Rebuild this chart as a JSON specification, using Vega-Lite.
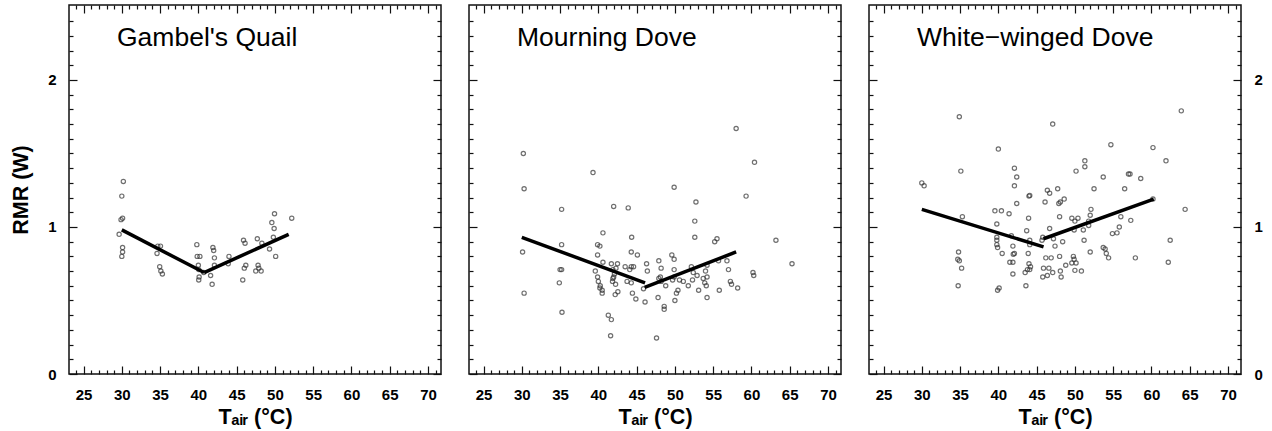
{
  "$schema": "https://vega.github.io/schema/vega-lite/v6.json",
  "padding": {"left": 9, "top": 3, "right": 5, "bottom": 0},
  "spacing": 24,
  "datasets": {
    "gq_pts": [
      {"tair":30.2,"rmr":1.31},{"tair":30.0,"rmr":1.21},{"tair":29.9,"rmr":1.05},{"tair":30.1,"rmr":1.06},{"tair":29.65,"rmr":0.95},{"tair":30.1,"rmr":0.86},{"tair":30.1,"rmr":0.83},{"tair":30.0,"rmr":0.80},
      {"tair":34.7,"rmr":0.87},{"tair":35.05,"rmr":0.87},{"tair":34.6,"rmr":0.82},{"tair":34.95,"rmr":0.73},{"tair":35.1,"rmr":0.70},{"tair":35.3,"rmr":0.68},
      {"tair":39.8,"rmr":0.88},{"tair":39.85,"rmr":0.80},{"tair":40.2,"rmr":0.80},{"tair":40.0,"rmr":0.74},{"tair":40.05,"rmr":0.71},{"tair":40.1,"rmr":0.66},{"tair":40.05,"rmr":0.64},{"tair":40.7,"rmr":0.69},
      {"tair":41.6,"rmr":0.67},{"tair":41.8,"rmr":0.61},{"tair":41.9,"rmr":0.86},{"tair":42.0,"rmr":0.84},{"tair":42.1,"rmr":0.79},{"tair":42.1,"rmr":0.74},{"tair":44.0,"rmr":0.80},{"tair":43.9,"rmr":0.75},
      {"tair":45.9,"rmr":0.91},{"tair":46.1,"rmr":0.89},{"tair":46.2,"rmr":0.74},{"tair":46.0,"rmr":0.72},{"tair":45.8,"rmr":0.64},{"tair":47.7,"rmr":0.92},{"tair":47.8,"rmr":0.74},{"tair":47.9,"rmr":0.72},
      {"tair":47.5,"rmr":0.70},{"tair":48.2,"rmr":0.70},{"tair":48.3,"rmr":0.89},{"tair":49.3,"rmr":0.85},{"tair":49.6,"rmr":1.03},{"tair":49.95,"rmr":1.09},{"tair":49.9,"rmr":0.99},{"tair":49.8,"rmr":0.93},
      {"tair":50.1,"rmr":0.80},{"tair":52.2,"rmr":1.06}
    ],
    "gq_fit": [
      {"segment":"a","tair":30.0,"rmr":0.98},{"segment":"a","tair":40.75,"rmr":0.69},
      {"segment":"b","tair":40.75,"rmr":0.69},{"segment":"b","tair":51.8,"rmr":0.95}
    ],
    "md_pts": [
      {"tair":30.2,"rmr":1.50},{"tair":30.3,"rmr":1.26},{"tair":30.1,"rmr":0.83},{"tair":30.3,"rmr":0.55},{"tair":39.3,"rmr":1.37},{"tair":35.2,"rmr":1.12},{"tair":35.2,"rmr":0.88},{"tair":35.0,"rmr":0.71},
      {"tair":35.2,"rmr":0.71},{"tair":34.9,"rmr":0.62},{"tair":35.25,"rmr":0.42},{"tair":42.0,"rmr":1.14},{"tair":43.9,"rmr":1.13},{"tair":40.6,"rmr":0.96},{"tair":44.35,"rmr":0.93},{"tair":39.9,"rmr":0.88},
      {"tair":40.2,"rmr":0.87},{"tair":39.9,"rmr":0.81},{"tair":44.3,"rmr":0.83},{"tair":45.1,"rmr":0.81},{"tair":40.6,"rmr":0.76},{"tair":39.6,"rmr":0.70},{"tair":39.9,"rmr":0.66},{"tair":40.0,"rmr":0.63},
      {"tair":40.2,"rmr":0.585},{"tair":40.25,"rmr":0.60},{"tair":40.5,"rmr":0.57},{"tair":40.5,"rmr":0.55},{"tair":41.7,"rmr":0.75},{"tair":42.5,"rmr":0.75},{"tair":41.9,"rmr":0.71},{"tair":42.0,"rmr":0.66},
      {"tair":41.85,"rmr":0.63},{"tair":42.25,"rmr":0.61},{"tair":42.55,"rmr":0.56},{"tair":42.2,"rmr":0.54},{"tair":41.3,"rmr":0.40},{"tair":41.7,"rmr":0.37},{"tair":41.6,"rmr":0.26},{"tair":43.5,"rmr":0.73},
      {"tair":44.3,"rmr":0.73},{"tair":44.1,"rmr":0.71},{"tair":44.6,"rmr":0.73},{"tair":43.75,"rmr":0.63},{"tair":44.3,"rmr":0.62},{"tair":44.45,"rmr":0.55},{"tair":44.9,"rmr":0.51},{"tair":46.1,"rmr":0.49},
      {"tair":46.3,"rmr":0.75},{"tair":46.4,"rmr":0.70},{"tair":45.9,"rmr":0.58},{"tair":47.9,"rmr":0.77},{"tair":48.2,"rmr":0.72},{"tair":48.1,"rmr":0.66},{"tair":47.9,"rmr":0.65},{"tair":48.2,"rmr":0.63},
      {"tair":48.8,"rmr":0.60},{"tair":47.8,"rmr":0.52},{"tair":48.6,"rmr":0.46},{"tair":48.6,"rmr":0.44},{"tair":47.6,"rmr":0.245},{"tair":49.6,"rmr":0.81},{"tair":49.9,"rmr":0.78},{"tair":49.9,"rmr":0.71},
      {"tair":49.9,"rmr":0.66},{"tair":49.7,"rmr":0.64},{"tair":50.6,"rmr":0.64},{"tair":50.4,"rmr":0.57},{"tair":50.2,"rmr":0.55},{"tair":50.0,"rmr":0.50},{"tair":49.9,"rmr":1.27},{"tair":51.1,"rmr":0.63},
      {"tair":51.75,"rmr":0.60},{"tair":52.15,"rmr":0.73},{"tair":52.4,"rmr":0.69},{"tair":52.3,"rmr":0.64},{"tair":52.6,"rmr":1.04},{"tair":52.75,"rmr":1.17},{"tair":52.6,"rmr":0.93},{"tair":52.9,"rmr":0.67},
      {"tair":53.1,"rmr":0.57},{"tair":53.7,"rmr":0.65},{"tair":54.0,"rmr":0.70},{"tair":54.2,"rmr":0.74},{"tair":54.2,"rmr":0.66},{"tair":53.9,"rmr":0.62},{"tair":54.1,"rmr":0.60},{"tair":54.2,"rmr":0.52},
      {"tair":55.2,"rmr":0.90},{"tair":55.5,"rmr":0.92},{"tair":55.7,"rmr":0.77},{"tair":55.8,"rmr":0.57},{"tair":56.8,"rmr":0.77},{"tair":57.0,"rmr":0.71},{"tair":57.25,"rmr":0.63},{"tair":57.4,"rmr":0.61},
      {"tair":58.2,"rmr":0.585},{"tair":58.0,"rmr":1.67},{"tair":59.3,"rmr":1.21},{"tair":60.4,"rmr":1.44},{"tair":60.2,"rmr":0.69},{"tair":60.3,"rmr":0.67},{"tair":63.2,"rmr":0.91},{"tair":65.3,"rmr":0.75},
      {"tair":42.1,"rmr":0.68},{"tair":42.3,"rmr":0.72},{"tair":41.9,"rmr":0.65}
    ],
    "md_fit": [
      {"segment":"a","tair":30.0,"rmr":0.93},{"segment":"a","tair":46.1,"rmr":0.62},
      {"segment":"b","tair":46.05,"rmr":0.59},{"segment":"b","tair":58.0,"rmr":0.83}
    ],
    "ww_pts": [
      {"tair":30.0,"rmr":1.30},{"tair":30.3,"rmr":1.28},{"tair":34.9,"rmr":1.75},{"tair":35.1,"rmr":1.38},{"tair":35.3,"rmr":1.07},{"tair":34.8,"rmr":0.83},{"tair":34.7,"rmr":0.78},{"tair":34.9,"rmr":0.77},
      {"tair":35.2,"rmr":0.72},{"tair":34.75,"rmr":0.60},{"tair":40.0,"rmr":1.53},{"tair":39.55,"rmr":1.11},{"tair":40.4,"rmr":1.11},{"tair":41.4,"rmr":1.09},{"tair":39.8,"rmr":1.02},{"tair":39.8,"rmr":0.93},
      {"tair":39.8,"rmr":0.91},{"tair":39.8,"rmr":0.88},{"tair":39.9,"rmr":0.86},{"tair":40.5,"rmr":0.82},{"tair":39.9,"rmr":0.57},{"tair":40.1,"rmr":0.585},{"tair":42.1,"rmr":1.40},{"tair":42.4,"rmr":1.34},
      {"tair":42.1,"rmr":1.28},{"tair":42.4,"rmr":1.16},{"tair":41.7,"rmr":0.94},{"tair":41.9,"rmr":0.87},{"tair":42.1,"rmr":0.82},{"tair":41.95,"rmr":0.815},{"tair":41.5,"rmr":0.76},{"tair":41.9,"rmr":0.76},
      {"tair":41.9,"rmr":0.68},{"tair":44.0,"rmr":1.21},{"tair":44.1,"rmr":1.215},{"tair":43.95,"rmr":1.06},{"tair":43.7,"rmr":0.975},{"tair":44.1,"rmr":0.91},{"tair":44.1,"rmr":0.88},{"tair":43.9,"rmr":0.82},
      {"tair":44.0,"rmr":0.75},{"tair":44.2,"rmr":0.73},{"tair":44.1,"rmr":0.71},{"tair":43.5,"rmr":0.69},{"tair":43.8,"rmr":0.71},{"tair":43.6,"rmr":0.60},{"tair":45.8,"rmr":0.93},{"tair":45.7,"rmr":0.91},
      {"tair":46.1,"rmr":1.17},{"tair":46.4,"rmr":1.25},{"tair":46.7,"rmr":1.23},{"tair":46.7,"rmr":0.99},{"tair":47.2,"rmr":0.92},{"tair":47.4,"rmr":0.87},{"tair":47.1,"rmr":1.70},{"tair":46.2,"rmr":0.79},
      {"tair":46.9,"rmr":0.79},{"tair":45.9,"rmr":0.72},{"tair":46.6,"rmr":0.72},{"tair":45.8,"rmr":0.66},{"tair":46.4,"rmr":0.67},{"tair":47.1,"rmr":0.69},{"tair":47.75,"rmr":1.26},{"tair":47.9,"rmr":1.16},
      {"tair":48.1,"rmr":1.17},{"tair":48.6,"rmr":1.19},{"tair":48.0,"rmr":1.07},{"tair":48.4,"rmr":0.90},{"tair":48.0,"rmr":0.80},{"tair":48.1,"rmr":0.70},{"tair":48.2,"rmr":0.66},{"tair":48.8,"rmr":0.74},
      {"tair":49.6,"rmr":1.06},{"tair":50.4,"rmr":1.06},{"tair":50.0,"rmr":1.04},{"tair":49.9,"rmr":0.98},{"tair":49.6,"rmr":0.755},{"tair":49.8,"rmr":0.80},{"tair":49.9,"rmr":0.78},{"tair":50.15,"rmr":0.755},
      {"tair":50.0,"rmr":0.705},{"tair":50.85,"rmr":0.70},{"tair":50.15,"rmr":1.38},{"tair":51.3,"rmr":1.45},{"tair":51.3,"rmr":1.41},{"tair":51.2,"rmr":0.91},{"tair":51.8,"rmr":1.01},{"tair":51.8,"rmr":1.04},
      {"tair":52.0,"rmr":1.08},{"tair":52.1,"rmr":1.12},{"tair":51.1,"rmr":0.98},{"tair":52.0,"rmr":0.83},{"tair":52.5,"rmr":1.26},{"tair":53.7,"rmr":1.34},{"tair":54.7,"rmr":1.56},{"tair":54.9,"rmr":0.955},
      {"tair":55.5,"rmr":0.96},{"tair":55.8,"rmr":1.00},{"tair":53.7,"rmr":0.86},{"tair":53.95,"rmr":0.85},{"tair":54.1,"rmr":0.82},{"tair":54.4,"rmr":0.79},{"tair":56.0,"rmr":1.07},{"tair":56.5,"rmr":1.26},
      {"tair":57.0,"rmr":1.36},{"tair":57.2,"rmr":1.36},{"tair":57.3,"rmr":1.045},{"tair":58.6,"rmr":1.33},{"tair":57.9,"rmr":0.79},{"tair":60.2,"rmr":1.54},{"tair":60.2,"rmr":1.19},{"tair":61.9,"rmr":1.45},
      {"tair":62.45,"rmr":0.91},{"tair":62.2,"rmr":0.76},{"tair":63.9,"rmr":1.79},{"tair":64.4,"rmr":1.12}
    ],
    "ww_fit": [
      {"segment":"a","tair":30.0,"rmr":1.12},{"segment":"a","tair":45.9,"rmr":0.865},
      {"segment":"b","tair":45.9,"rmr":0.92},{"segment":"b","tair":60.3,"rmr":1.19}
    ]
  },
  "hconcat": [
    {
      "width": 372, "height": 369,
      "title": {"text": "Gambel's Quail"},
      "layer": [
        {
          "data": {"name": "gq_pts"},
          "mark": {"type": "point", "shape": "circle", "filled": false, "size": 18, "stroke": "#333", "strokeWidth": 1.2},
          "encoding": {
            "x": {"field": "tair", "type": "quantitative", "scale": {"domain": [23.1, 71.7], "nice": false, "zero": false},
              "axis": {"orient": "bottom", "values": [24,25,26,27,28,29,30,31,32,33,34,35,36,37,38,39,40,41,42,43,44,45,46,47,48,49,50,51,52,53,54,55,56,57,58,59,60,61,62,63,64,65,66,67,68,69,70,71],
                "tickSize": {"condition": {"test": "datum.value % 5 === 0", "value": -8}, "value": -4},
                "labelExpr": "datum.value % 5 === 0 ? datum.label : ''", "labelPadding": 21, "labelOverlap": false, "labelFlush": false,
                "title": "Tₐᵢᵣ (°C)", "titlePadding": 0}},
            "y": {"field": "rmr", "type": "quantitative", "scale": {"domain": [0, 2.51], "nice": false, "zero": false},
              "axis": {"orient": "left", "values": [0,0.1,0.2,0.3,0.4,0.5,0.6,0.7,0.8,0.9,1,1.1,1.2,1.3,1.4,1.5,1.6,1.7,1.8,1.9,2,2.1,2.2,2.3,2.4],
                "tickSize": {"condition": {"test": "abs(datum.value - round(datum.value)) < 0.001", "value": -8}, "value": -4},
                "labelExpr": "abs(datum.value - round(datum.value)) < 0.001 ? format(datum.value, 'd') : ''", "labelPadding": 21, "labelOverlap": false, "labelFlush": false,
                "title": "RMR (W)", "titlePadding": 15}}
          }
        },
        {
          "data": {"name": "gq_fit"},
          "mark": {"type": "line", "color": "#000", "strokeWidth": 3.5},
          "encoding": {
            "x": {"field": "tair", "type": "quantitative",
              "axis": {"orient": "top", "values": [24,25,26,27,28,29,30,31,32,33,34,35,36,37,38,39,40,41,42,43,44,45,46,47,48,49,50,51,52,53,54,55,56,57,58,59,60,61,62,63,64,65,66,67,68,69,70,71],
                "tickSize": {"condition": {"test": "datum.value % 5 === 0", "value": -8}, "value": -4}, "labels": false, "title": null}},
            "y": {"field": "rmr", "type": "quantitative",
              "axis": {"orient": "right", "values": [0,0.1,0.2,0.3,0.4,0.5,0.6,0.7,0.8,0.9,1,1.1,1.2,1.3,1.4,1.5,1.6,1.7,1.8,1.9,2,2.1,2.2,2.3,2.4],
                "tickSize": {"condition": {"test": "abs(datum.value - round(datum.value)) < 0.001", "value": -8}, "value": -4}, "labels": false, "title": null}},
            "detail": {"field": "segment"}
          }
        }
      ],
      "resolve": {"axis": {"x": "independent", "y": "independent"}}
    },
    {
      "width": 372, "height": 369,
      "title": {"text": "Mourning Dove"},
      "layer": [
        {
          "data": {"name": "md_pts"},
          "mark": {"type": "point", "shape": "circle", "filled": false, "size": 18, "stroke": "#333", "strokeWidth": 1.2},
          "encoding": {
            "x": {"field": "tair", "type": "quantitative", "scale": {"domain": [23.1, 71.7], "nice": false, "zero": false},
              "axis": {"orient": "bottom", "values": [24,25,26,27,28,29,30,31,32,33,34,35,36,37,38,39,40,41,42,43,44,45,46,47,48,49,50,51,52,53,54,55,56,57,58,59,60,61,62,63,64,65,66,67,68,69,70,71],
                "tickSize": {"condition": {"test": "datum.value % 5 === 0", "value": -8}, "value": -4},
                "labelExpr": "datum.value % 5 === 0 ? datum.label : ''", "labelPadding": 21, "labelOverlap": false, "labelFlush": false,
                "title": "Tₐᵢᵣ (°C)", "titlePadding": 0}},
            "y": {"field": "rmr", "type": "quantitative", "scale": {"domain": [0, 2.51], "nice": false, "zero": false},
              "axis": {"orient": "left", "values": [0,0.1,0.2,0.3,0.4,0.5,0.6,0.7,0.8,0.9,1,1.1,1.2,1.3,1.4,1.5,1.6,1.7,1.8,1.9,2,2.1,2.2,2.3,2.4],
                "tickSize": {"condition": {"test": "abs(datum.value - round(datum.value)) < 0.001", "value": -8}, "value": -4}, "labels": false, "title": null}}
          }
        },
        {
          "data": {"name": "md_fit"},
          "mark": {"type": "line", "color": "#000", "strokeWidth": 3.5},
          "encoding": {
            "x": {"field": "tair", "type": "quantitative",
              "axis": {"orient": "top", "values": [24,25,26,27,28,29,30,31,32,33,34,35,36,37,38,39,40,41,42,43,44,45,46,47,48,49,50,51,52,53,54,55,56,57,58,59,60,61,62,63,64,65,66,67,68,69,70,71],
                "tickSize": {"condition": {"test": "datum.value % 5 === 0", "value": -8}, "value": -4}, "labels": false, "title": null}},
            "y": {"field": "rmr", "type": "quantitative",
              "axis": {"orient": "right", "values": [0,0.1,0.2,0.3,0.4,0.5,0.6,0.7,0.8,0.9,1,1.1,1.2,1.3,1.4,1.5,1.6,1.7,1.8,1.9,2,2.1,2.2,2.3,2.4],
                "tickSize": {"condition": {"test": "abs(datum.value - round(datum.value)) < 0.001", "value": -8}, "value": -4}, "labels": false, "title": null}},
            "detail": {"field": "segment"}
          }
        }
      ],
      "resolve": {"axis": {"x": "independent", "y": "independent"}}
    },
    {
      "width": 372, "height": 369,
      "title": {"text": "White−winged Dove"},
      "layer": [
        {
          "data": {"name": "ww_pts"},
          "mark": {"type": "point", "shape": "circle", "filled": false, "size": 18, "stroke": "#333", "strokeWidth": 1.2},
          "encoding": {
            "x": {"field": "tair", "type": "quantitative", "scale": {"domain": [23.1, 71.7], "nice": false, "zero": false},
              "axis": {"orient": "bottom", "values": [24,25,26,27,28,29,30,31,32,33,34,35,36,37,38,39,40,41,42,43,44,45,46,47,48,49,50,51,52,53,54,55,56,57,58,59,60,61,62,63,64,65,66,67,68,69,70,71],
                "tickSize": {"condition": {"test": "datum.value % 5 === 0", "value": -8}, "value": -4},
                "labelExpr": "datum.value % 5 === 0 ? datum.label : ''", "labelPadding": 21, "labelOverlap": false, "labelFlush": false,
                "title": "Tₐᵢᵣ (°C)", "titlePadding": 0}},
            "y": {"field": "rmr", "type": "quantitative", "scale": {"domain": [0, 2.51], "nice": false, "zero": false},
              "axis": {"orient": "left", "values": [0,0.1,0.2,0.3,0.4,0.5,0.6,0.7,0.8,0.9,1,1.1,1.2,1.3,1.4,1.5,1.6,1.7,1.8,1.9,2,2.1,2.2,2.3,2.4],
                "tickSize": {"condition": {"test": "abs(datum.value - round(datum.value)) < 0.001", "value": -8}, "value": -4}, "labels": false, "title": null}}
          }
        },
        {
          "data": {"name": "ww_fit"},
          "mark": {"type": "line", "color": "#000", "strokeWidth": 3.5},
          "encoding": {
            "x": {"field": "tair", "type": "quantitative",
              "axis": {"orient": "top", "values": [24,25,26,27,28,29,30,31,32,33,34,35,36,37,38,39,40,41,42,43,44,45,46,47,48,49,50,51,52,53,54,55,56,57,58,59,60,61,62,63,64,65,66,67,68,69,70,71],
                "tickSize": {"condition": {"test": "datum.value % 5 === 0", "value": -8}, "value": -4}, "labels": false, "title": null}},
            "y": {"field": "rmr", "type": "quantitative",
              "axis": {"orient": "right", "values": [0,0.1,0.2,0.3,0.4,0.5,0.6,0.7,0.8,0.9,1,1.1,1.2,1.3,1.4,1.5,1.6,1.7,1.8,1.9,2,2.1,2.2,2.3,2.4],
                "tickSize": {"condition": {"test": "abs(datum.value - round(datum.value)) < 0.001", "value": -8}, "value": -4},
                "labelExpr": "abs(datum.value - round(datum.value)) < 0.001 ? format(datum.value, 'd') : ''", "labelPadding": 21, "labelOverlap": false, "labelFlush": false, "title": null}},
            "detail": {"field": "segment"}
          }
        }
      ],
      "resolve": {"axis": {"x": "independent", "y": "independent"}}
    }
  ],
  "config": {
    "font": "Liberation Sans",
    "view": {"stroke": "#111", "strokeWidth": 1.5},
    "axis": {"domain": false, "grid": false, "tickColor": "#111", "tickWidth": 1.2,
      "labelFont": "Liberation Sans", "labelFontSize": 15, "labelFontWeight": "bold", "labelColor": "#000",
      "titleFont": "Liberation Sans", "titleFontSize": 21.5, "titleFontWeight": "bold", "titleColor": "#000"},
    "title": {"anchor": "start", "frame": "group", "dx": 48, "offset": -47, "baseline": "alphabetic",
      "font": "Liberation Sans", "fontSize": 26.5, "fontWeight": "normal", "color": "#000"}
  }
}
